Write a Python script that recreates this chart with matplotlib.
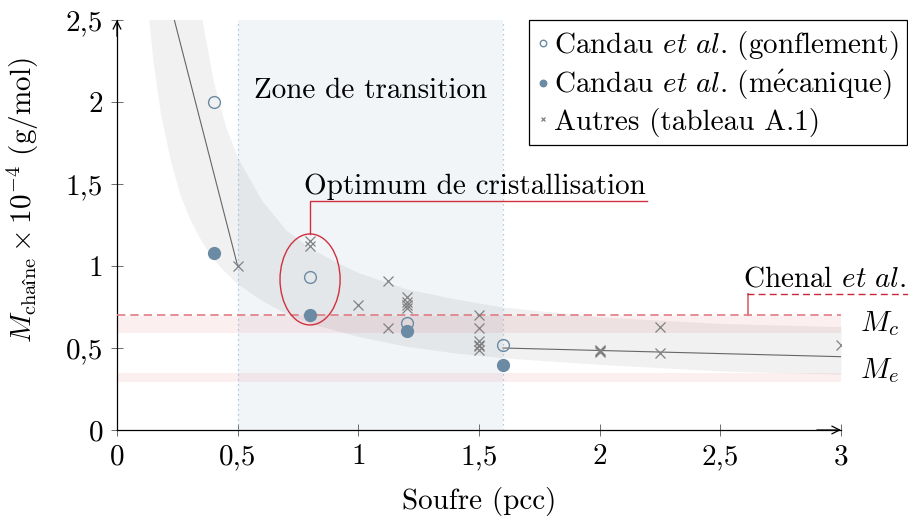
import numpy as np
import matplotlib
matplotlib.use("Agg")
import matplotlib.pyplot as plt
from matplotlib.patches import Ellipse

plt.rcParams['font.family'] = ['cmr10', 'STIXGeneral']
plt.rcParams['mathtext.fontset'] = 'cm'
plt.rcParams['axes.formatter.use_mathtext'] = True
plt.rcParams['font.size'] = 21

# Candau et al. (gonflement) - open circles
gonf_x = [0.4, 0.8, 1.2, 1.6]
gonf_y = [2.0, 0.93, 0.65, 0.52]

# Candau et al. (mecanique) - filled circles
meca_x = [0.4, 0.8, 1.2, 1.6]
meca_y = [1.08, 0.70, 0.605, 0.395]

# Autres (tableau A.1) - crosses
autres_x = [0.5, 0.8, 0.8, 1.0, 1.125, 1.125, 1.2, 1.2, 1.2, 1.2,
            1.5, 1.5, 1.5, 1.5, 1.5, 1.5, 2.0, 2.0, 2.0, 2.25, 2.25, 3.0]
autres_y = [1.0, 1.15, 1.12, 0.765, 0.91, 0.62, 0.81, 0.78, 0.76, 0.745,
            0.70, 0.62, 0.54, 0.52, 0.51, 0.49, 0.485, 0.48, 0.475, 0.63, 0.47, 0.52]

# thin trend segments
trend_left_x = [0.2376, 0.5]
trend_left_y = [2.5, 1.0]
trend_right_x = [1.6, 3.0]
trend_right_y = [0.50, 0.447]

# grey band
band_x = [0.13, 0.15, 0.18, 0.22, 0.26, 0.30, 0.35, 0.40, 0.45, 0.5, 0.6, 0.7,
          0.8, 0.9, 1.0, 1.2, 1.4, 1.6, 1.8, 2.0, 2.25, 2.5, 2.75, 3.0]
band_low = [2.52, 2.24, 1.93, 1.65, 1.44, 1.29, 1.15, 1.04, 0.96, 0.89, 0.79, 0.71,
            0.65, 0.61, 0.57, 0.51, 0.47, 0.44, 0.42, 0.40, 0.38, 0.36, 0.35, 0.34]
band_high = [2.6, 2.6, 2.6, 2.6, 2.6, 2.6, 2.52, 2.12, 1.85, 1.66, 1.40, 1.22,
             1.11, 1.03, 0.96, 0.86, 0.80, 0.75, 0.72, 0.69, 0.67, 0.65, 0.64, 0.63]

zone = (0.5, 1.6)
mc_band = (0.59, 0.695)
me_band = (0.295, 0.35)
chenal_y = 0.70

xticks = [0, 0.5, 1, 1.5, 2, 2.5, 3]
xticklabels = ["0", "0,5", "1", "1,5", "2", "2,5", "3"]
yticks = [0, 0.5, 1, 1.5, 2, 2.5]
yticklabels = ["0", "0,5", "1", "1,5", "2", "2,5"]

blue = "#6b8aa3"
red = "#d0303f"
light_red = "#e07a82"

fig = plt.figure(figsize=(9.08, 5.23), dpi=100)
ax = fig.add_axes([0.12885, 0.17782, 0.79736, 0.78394])
ax.set_xlim(0, 3)
ax.set_ylim(0, 2.5)

# transition zone
ax.axvspan(zone[0], zone[1], color="#f2f5f8", zorder=0, lw=0)
for xv in zone:
    ax.axvline(xv, color="#9bb8d6", lw=0.9, ls=(0, (1, 3)), zorder=3)

# M_c / M_e bands
ax.axhspan(mc_band[0], mc_band[1], color=(0.86, 0.2, 0.2), alpha=0.08, lw=0, zorder=1)
ax.axhspan(me_band[0], me_band[1], color=(0.86, 0.2, 0.2), alpha=0.08, lw=0, zorder=1)

# grey band
ax.fill_between(band_x, band_low, band_high, color="black", alpha=0.055, lw=0, zorder=2)

# Chenal et al. line
ax.axhline(chenal_y, color=light_red, lw=1.2, ls=(0, (5, 3)), zorder=3)

# trend lines
ax.plot(trend_left_x, trend_left_y, color="#666666", lw=0.8, zorder=4)
ax.plot(trend_right_x, trend_right_y, color="#666666", lw=0.8, zorder=4)

# data
ax.plot(gonf_x, gonf_y, ls="none", marker="o", ms=8.5, mfc="none", mec=blue,
        mew=1.0, zorder=5, label=r"Candau $\mathit{et\ al}.\,$(gonflement)")
ax.plot(meca_x, meca_y, ls="none", marker="o", ms=8.5, mfc=blue, mec=blue,
        zorder=5, label=r"Candau $\mathit{et\ al}.\,$(m$\acute{\mathrm{e}}$canique)")
ax.plot(autres_x, autres_y, ls="none", marker="x", ms=6.5, mec="#808080",
        mew=0.9, zorder=5, label="Autres (tableau A.1)")

# annotations
ax.text(1.05, 2.07, "Zone de transition", ha="center", va="center")
ax.add_patch(Ellipse((0.8, 0.918), 0.249, 0.555, fill=False, ec=red, lw=1.0, zorder=6))
ax.plot([0.8, 0.8, 2.196], [1.195, 1.396, 1.396], color=red, lw=1.0, zorder=6)
ax.text(1.484, 1.40, "Optimum de cristallisation", ha="center", va="bottom")

ax.plot([2.615, 2.615], [chenal_y, 0.827], color=light_red, lw=1.4, zorder=6,
        clip_on=False)
ax.plot([2.61, 3.278], [0.827, 0.827], color="#c8283a", lw=1.0, ls=(0, (5, 3)),
        zorder=6, clip_on=False)
ax.text(2.934, 0.84, r"Chenal $\mathit{et\ al}.$", ha="center", va="bottom")
ax.text(3.16, 0.65, r"$M_c$", ha="center", va="center")
ax.text(3.16, 0.36, r"$M_e$", ha="center", va="center")

# axes styling
for side in ["top", "right"]:
    ax.spines[side].set_visible(False)
for side in ["left", "bottom"]:
    ax.spines[side].set_color("black")
    ax.spines[side].set_linewidth(0.9)
ax.annotate("", xy=(3.0, 0), xytext=(2.9, 0),
            arrowprops=dict(arrowstyle="->", color="black", lw=0.9,
                            shrinkA=0, shrinkB=0, mutation_scale=14),
            annotation_clip=False)
ax.annotate("", xy=(0, 2.5), xytext=(0, 2.4),
            arrowprops=dict(arrowstyle="->", color="black", lw=0.9,
                            shrinkA=0, shrinkB=0, mutation_scale=14),
            annotation_clip=False)

ax.set_xticks(xticks)
ax.set_xticklabels(xticklabels)
ax.set_yticks(yticks)
ax.set_yticklabels(yticklabels)
ax.tick_params(direction="inout", length=8, width=0.6, color="#555555", pad=6)

ax.set_xlabel("Soufre (pcc)", labelpad=12)
ax.set_ylabel(r"$M_{\mathrm{chaîne}} \times 10^{-4}$ (g/mol)")
ax.yaxis.set_label_coords(-0.105, 0.56)

leg = ax.legend(loc="upper right", bbox_to_anchor=(907 / 908, 1 - 20 / 523),
                bbox_transform=fig.transFigure, fancybox=False, framealpha=1,
                edgecolor="black", handlelength=0.35, handletextpad=0.2,
                borderpad=0.3, labelspacing=0.2, borderaxespad=0,
                markerscale=0.55)
leg.get_frame().set_linewidth(0.9)

fig.savefig("out.png", dpi=100)
